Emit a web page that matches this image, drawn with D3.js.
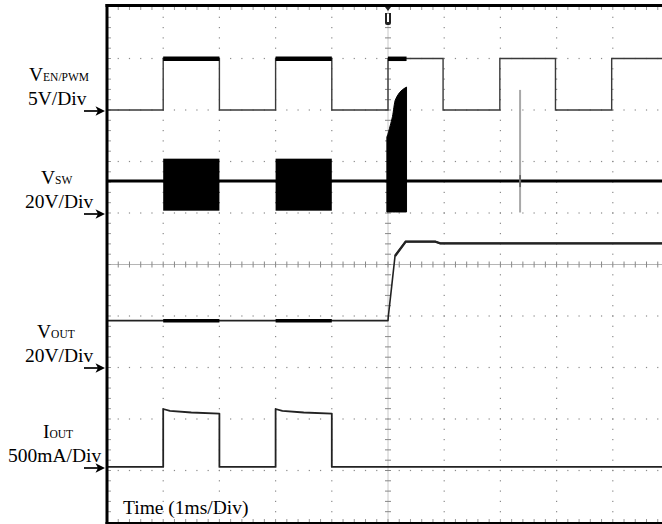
<!DOCTYPE html>
<html><head><meta charset="utf-8">
<script src="https://cdn.jsdelivr.net/npm/d3@7"></script>
<style>body{margin:0;background:#fff}svg{display:block}</style>
</head><body>
<svg id="c" width="662" height="524"></svg>
<script>
// ---------- data ----------
const gridDivs = d3.range(0, 11);              // 10 x 10 divisions
const channelNames = ["V", "V", "V", "I"];
const channelSubs = ["EN/PWM", "SW", "OUT", "OUT"];
const channelScales = ["5V/Div", "20V/Div", "20V/Div", "500mA/Div"];
const channelPerDiv = [5, 20, 20, 500];        // units per division
const channelOffsetDiv = [8, 6, 3, 1];         // ground reference (division)
const timeLabel = "Time (1ms/Div)";

// EN/PWM (V) vs time (ms)
const enTime  = [0, 1.0, 2.0, 3.0, 4.0, 5.0, 5.98, 6.99, 7.98, 8.98, 10.2];
const enVolts = [0, 5,   0,   5,   0,   5,   0,    5,    0,    5,    5];
// switching bursts (ms)
const burstStart = [1.0, 3.0, 5.0];
const burstEnd   = [2.0, 4.0, 5.33];
// SW node (V)
const swIdleVolts = 12.4;
const swBurstHigh = 21.1;
const swBurstLow = 0.9;
const startupTime  = [4.98, 5.01, 5.04, 5.08, 5.13, 5.33];
const startupUpper = [29.5, 31.5, 34.0, 37.5, 43.9, 48.9];
const startupLower = [0.4, 0.4, 0.4, 0.4, 0.4, 0.4];
const glitchTime = 7.35, glitchTop = 47.8, glitchBottom = 0.2;
// VOUT (V)
const voutTime  = [0, 5.0, 5.005, 5.065, 5.125, 5.315, 5.84, 5.93, 10.2];
const voutVolts = [18.2, 18.2, 19.7, 31.4, 43.3, 48.9, 48.9, 48.2, 48.2];
// IOUT (mA)
const ioutTime = [0, 1, 1, 1.12, 1.5, 2, 2, 3, 3, 3.12, 3.5, 4, 4, 10.2];
const ioutMilliamps = [35, 35, 597, 578, 563, 553, 35, 35, 597, 578, 563, 553, 35, 35];

// ---------- drawing ----------
const svg = d3.select("#c");
const x = d3.scaleLinear().domain([0, 10]).range([107, 669]);
const y = d3.scaleLinear().domain([0, 10]).range([522, 7]);
const yc = (ch, v) => y(channelOffsetDiv[ch] + v / channelPerDiv[ch]);
const FONT = "'Liberation Serif','Times New Roman',serif";

svg.append("defs").append("clipPath").attr("id", "plot")
  .append("rect").attr("x", x(0)).attr("y", y(10)).attr("width", x(10) - x(0)).attr("height", y(0) - y(10));

// grid
const g = svg.append("g");
const minor = d3.range(1, 50).map(j => j * 0.2);
gridDivs.filter(k => k > 0 && k < 10 && k !== 5).forEach(k => {
  g.selectAll(null).data(minor).enter().append("rect")
    .attr("x", x(k) - 0.6).attr("y", d => y(d) - 0.6).attr("width", 1.2).attr("height", 1.2).attr("fill", "#8a8a8a");
  g.selectAll(null).data(minor).enter().append("rect")
    .attr("x", d => x(d) - 0.6).attr("y", y(k) - 0.6).attr("width", 1.2).attr("height", 1.2).attr("fill", "#8a8a8a");
});
// centre axes with ticks
g.append("line").attr("x1", x(0)).attr("x2", x(10)).attr("y1", y(5)).attr("y2", y(5)).attr("stroke", "#b5b5b5").attr("stroke-width", 1);
g.append("line").attr("x1", x(5)).attr("x2", x(5)).attr("y1", y(0)).attr("y2", y(10)).attr("stroke", "#c8c8c8").attr("stroke-width", 1);
g.selectAll(null).data(minor).enter().append("line")
  .attr("x1", d => x(d)).attr("x2", d => x(d)).attr("y1", y(5) - 3).attr("y2", y(5) + 3).attr("stroke", "#888");
g.selectAll(null).data(minor).enter().append("line")
  .attr("x1", x(5) - 3).attr("x2", x(5) + 3).attr("y1", d => y(d)).attr("y2", d => y(d)).attr("stroke", "#888");
// border ticks
g.selectAll(null).data(minor).enter().append("line")
  .attr("x1", d => x(d)).attr("x2", d => x(d)).attr("y1", y(10)).attr("y2", y(10) + 3).attr("stroke", "#999");
g.selectAll(null).data(minor).enter().append("line")
  .attr("x1", d => x(d)).attr("x2", d => x(d)).attr("y1", y(0) - 3).attr("y2", y(0)).attr("stroke", "#999");
g.selectAll(null).data(minor).enter().append("line")
  .attr("x1", x(0)).attr("x2", x(0) + 4).attr("y1", d => y(d)).attr("y2", d => y(d)).attr("stroke", "#999");

// traces
const tr = svg.append("g").attr("clip-path", "url(#plot)");

// EN/PWM
const enLine = d3.line().x(d => x(d[0])).y(d => yc(0, d[1])).curve(d3.curveStepAfter);
tr.append("path").datum(enTime.map((t, i) => [t, enVolts[i]]))
  .attr("d", enLine).attr("fill", "none").attr("stroke", "#3a3a3a").attr("stroke-width", 1.4);
burstStart.forEach((s, i) => {
  tr.append("line").attr("x1", x(s)).attr("x2", x(burstEnd[i])).attr("y1", yc(0, 5) + 0.3).attr("y2", yc(0, 5) + 0.3)
    .attr("stroke", "#000").attr("stroke-width", 4.5);
});

// SW idle line
tr.append("line").attr("x1", x(0)).attr("x2", x(10)).attr("y1", yc(1, swIdleVolts)).attr("y2", yc(1, swIdleVolts))
  .attr("stroke", "#000").attr("stroke-width", 3);
// SW bursts
burstStart.slice(0, 2).forEach((s, i) => {
  tr.append("rect").attr("x", x(s)).attr("width", x(burstEnd[i]) - x(s))
    .attr("y", yc(1, swBurstHigh)).attr("height", yc(1, swBurstLow) - yc(1, swBurstHigh)).attr("fill", "#000");
});
const swArea = d3.area().x(d => x(d[0])).y0(d => yc(1, d[2])).y1(d => yc(1, d[1])).curve(d3.curveMonotoneX);
tr.append("path").datum(startupTime.map((t, i) => [t, startupUpper[i], startupLower[i]]))
  .attr("d", swArea).attr("fill", "#000").attr("stroke", "#000").attr("stroke-width", 1);
// glitch
tr.append("line").attr("x1", x(glitchTime)).attr("x2", x(glitchTime))
  .attr("y1", yc(1, glitchTop)).attr("y2", yc(1, glitchBottom)).attr("stroke", "#a8a8a8").attr("stroke-width", 2);
tr.append("line").attr("x1", x(glitchTime)).attr("x2", x(glitchTime))
  .attr("y1", yc(1, swIdleVolts) - 6).attr("y2", yc(1, swIdleVolts) + 6).attr("stroke", "#333").attr("stroke-width", 1);

// VOUT
const voutLine = d3.line().x(d => x(d[0])).y(d => yc(2, d[1]));
tr.append("path").datum(voutTime.map((t, i) => [t, voutVolts[i]]))
  .attr("d", voutLine).attr("fill", "none").attr("stroke", "#222").attr("stroke-width", 1.6).attr("stroke-linejoin", "round");
tr.append("path").datum(voutTime.map((t, i) => [t, voutVolts[i]]).filter(d => d[0] >= 5.1))
  .attr("d", voutLine).attr("fill", "none").attr("stroke", "#222").attr("stroke-width", 2.4);
burstStart.slice(0, 2).forEach((s, i) => {
  tr.append("line").attr("x1", x(s)).attr("x2", x(burstEnd[i])).attr("y1", yc(2, voutVolts[0])).attr("y2", yc(2, voutVolts[0]))
    .attr("stroke", "#000").attr("stroke-width", 3.5);
});

// IOUT
const ioutLine = d3.line().x(d => x(d[0])).y(d => yc(3, d[1]));
tr.append("path").datum(ioutTime.map((t, i) => [t, ioutMilliamps[i]]))
  .attr("d", ioutLine).attr("fill", "none").attr("stroke", "#222").attr("stroke-width", 1.8).attr("stroke-linejoin", "round");
tr.append("path").datum(ioutTime.map((t, i) => [t, ioutMilliamps[i]]).filter(d => d[0] >= 4.5))
  .attr("d", ioutLine).attr("fill", "none").attr("stroke", "#111").attr("stroke-width", 2.8);

// border
svg.append("line").attr("x1", x(0)).attr("x2", x(0)).attr("y1", 4).attr("y2", 524).attr("stroke", "#000").attr("stroke-width", 3);
svg.append("line").attr("x1", x(0) - 1.5).attr("x2", 662).attr("y1", 5.5).attr("y2", 5.5).attr("stroke", "#000").attr("stroke-width", 3);
svg.append("line").attr("x1", x(0) - 1.5).attr("x2", 662).attr("y1", 523).attr("y2", 523).attr("stroke", "#000").attr("stroke-width", 2);

// trigger marker
const tx = x(5);
svg.append("path").attr("d", `M${tx - 3},7 L${tx + 3},7 L${tx},11 Z`).attr("fill", "#222");
svg.append("path").attr("d", `M${tx - 3},13 L${tx + 3},13 L${tx + 3},23 Q${tx + 3},25 ${tx + 1},25 L${tx - 1},25 Q${tx - 3},25 ${tx - 3},23 Z`).attr("fill", "#222");
svg.append("rect").attr("x", tx - 1).attr("y", 13.5).attr("width", 2).attr("height", 8.5).attr("fill", "#fff");

// labels
const nameX = [29, 41, 37, 43];
const scaleX = [28, 25, 25, 8];
const arrowDy = [1, 1, 0.5, -2.5];
channelNames.forEach((n, i) => {
  const ay = y(channelOffsetDiv[i]) + arrowDy[i];
  const t = svg.append("text").attr("x", nameX[i]).attr("y", ay - 30).attr("font-family", FONT).attr("fill", "#000");
  t.append("tspan").attr("font-size", 19.5).text(n);
  t.append("tspan").attr("font-size", 11.5).text(channelSubs[i]);
  svg.append("text").attr("x", scaleX[i]).attr("y", ay - 6.5).attr("font-family", FONT).attr("font-size", 19.5).attr("fill", "#000").text(channelScales[i]);
  svg.append("line").attr("x1", 84).attr("x2", 99).attr("y1", ay).attr("y2", ay).attr("stroke", "#000").attr("stroke-width", 1.7);
  svg.append("path").attr("d", `M105,${ay} L95.5,${ay - 4.8} L98,${ay} L95.5,${ay + 4.8} Z`).attr("fill", "#000");
});
svg.append("text").attr("x", 123).attr("y", 514).attr("font-family", FONT).attr("font-size", 19.5).attr("fill", "#000").text(timeLabel);
</script>
</body></html>
